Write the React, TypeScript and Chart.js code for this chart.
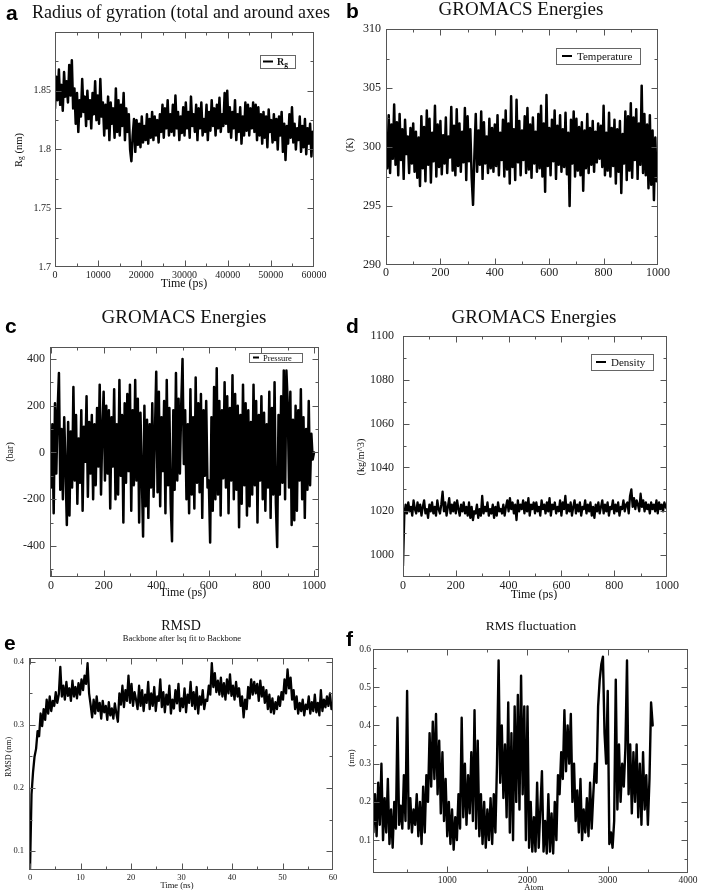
import React, { useEffect, useRef } from 'react';
import { Chart, registerables } from 'chart.js';

Chart.register(...registerables);

const SERIF = '"Liberation Serif", "Times New Roman", serif';
const SANS = '"Liberation Sans", Arial, sans-serif';

// ---------------- DATA ----------------
// (a) Radius of gyration, sampled every 300 ps from 0 ps
const RG_T0 = 0;
const RG_DT = 300;
const rgValues = [
  1.835, 1.862, 1.842, 1.868, 1.838, 1.855, 1.833, 1.866, 1.845, 1.858,
  1.840, 1.872, 1.846, 1.876, 1.835, 1.852, 1.822, 1.848, 1.815, 1.842,
  1.828, 1.860, 1.832, 1.845, 1.820, 1.850, 1.826, 1.842, 1.818, 1.848,
  1.830, 1.858, 1.825, 1.846, 1.822, 1.860, 1.828, 1.840, 1.812, 1.838,
  1.818, 1.845, 1.808, 1.840, 1.822, 1.835, 1.810, 1.852, 1.815, 1.842,
  1.812, 1.838, 1.820, 1.848, 1.808, 1.835, 1.815, 1.830, 1.800, 1.790,
  1.812, 1.826, 1.798, 1.825, 1.804, 1.822, 1.802, 1.828, 1.806, 1.820,
  1.808, 1.830, 1.805, 1.826, 1.810, 1.832, 1.808, 1.828, 1.812, 1.825,
  1.806, 1.830, 1.815, 1.838, 1.810, 1.835, 1.818, 1.842, 1.812, 1.830,
  1.815, 1.838, 1.812, 1.846, 1.818, 1.832, 1.808, 1.828, 1.814, 1.836,
  1.812, 1.840, 1.818, 1.832, 1.810, 1.845, 1.820, 1.830, 1.815, 1.838,
  1.808, 1.835, 1.818, 1.840, 1.812, 1.826, 1.815, 1.838, 1.808, 1.832,
  1.816, 1.842, 1.820, 1.835, 1.812, 1.838, 1.818, 1.844, 1.815, 1.830,
  1.820, 1.848, 1.822, 1.850, 1.815, 1.836, 1.810, 1.832, 1.818, 1.842,
  1.808, 1.830, 1.815, 1.836, 1.805, 1.828, 1.812, 1.840, 1.816, 1.838,
  1.812, 1.835, 1.818, 1.840, 1.815, 1.838, 1.808, 1.836, 1.812, 1.830,
  1.805, 1.832, 1.810, 1.828, 1.802, 1.834, 1.815, 1.825, 1.806, 1.830,
  1.808, 1.826, 1.800, 1.828, 1.812, 1.832, 1.798, 1.822, 1.791, 1.820,
  1.805, 1.830, 1.810, 1.836, 1.806, 1.822, 1.800, 1.818, 1.808, 1.828,
  1.798, 1.820, 1.802, 1.826, 1.796, 1.818, 1.805, 1.822, 1.794, 1.815,
  1.810,
];
const rgXTicks = [0, 10000, 20000, 30000, 40000, 50000, 60000];
const rgYTicks = [1.7, 1.75, 1.8, 1.85];

// (b) Temperature, every 5 ps
const T_T0 = 0;
const T_DT = 5;
const temperatureValues = [
  300.5, 298.2, 302.7, 297.8, 301.9, 299.0, 303.6, 298.5, 302.1, 297.6,
  302.8, 298.9, 301.5, 297.3, 302.3, 299.4, 300.9, 297.8, 301.6, 298.6,
  302.0, 297.9, 301.3, 297.4, 300.8, 296.7, 302.6, 298.2, 301.7, 297.1,
  303.1, 298.5, 302.4, 297.0, 301.2, 298.8, 303.5, 297.5, 301.9, 298.3,
  302.2, 297.7, 301.0, 298.6, 302.5, 297.8, 300.9, 299.1, 303.4, 298.0,
  301.8, 297.6, 303.2, 298.4, 302.0, 297.9, 301.3, 298.7, 303.3, 297.2,
  302.6, 298.8, 301.5, 297.4, 295.1, 299.3, 302.8, 297.9, 301.4, 298.5,
  303.0, 297.3, 302.1, 298.6, 300.9, 297.8, 302.4, 298.2, 301.6, 297.9,
  301.9, 298.4, 302.7, 297.6, 301.2, 298.9, 302.3, 297.5, 303.1, 298.1,
  302.0, 296.9, 304.3, 298.3, 301.5, 297.2, 304.0, 298.7, 302.2, 297.6,
  301.4, 298.9, 302.6, 297.8, 303.3, 298.1, 301.9, 297.4, 302.5, 298.6,
  301.3, 297.9, 302.8, 298.2, 303.5, 297.5, 302.0, 296.2, 304.4, 298.4,
  301.6, 297.6, 302.3, 298.8, 303.1, 297.3, 301.8, 298.5, 302.7, 297.9,
  301.5, 298.3, 302.9, 297.7, 301.2, 295.0, 302.3, 298.6, 303.0, 297.5,
  302.4, 298.0, 301.7, 297.6, 302.1, 296.3, 301.4, 298.2, 302.8, 297.8,
  301.6, 298.5, 302.2, 297.9, 301.3, 298.7, 302.0, 299.0, 301.8, 298.3,
  303.5, 297.6, 301.2, 298.0, 302.9, 297.5, 301.6, 298.4, 302.3, 296.9,
  301.5, 297.9, 302.2, 296.1, 301.1, 298.6, 303.0, 297.2, 302.6, 298.0,
  303.7, 297.4, 302.5, 298.9, 303.2, 297.3, 302.0, 298.5, 305.2, 297.8,
  302.8, 297.6, 301.9, 296.5, 302.7, 296.8, 301.4, 295.5, 300.8, 297.1,
  299.5,
];
const tempXTicks = [0, 200, 400, 600, 800, 1000];
const tempYTicks = [290, 295, 300, 305, 310];

// (c) Pressure, every 5 ps
const P_T0 = 0;
const P_DT = 5;
const pressureValues = [
  -150, 120, -260, 210, -90, 180, 340, -160, 100, -200,
  150, -60, -310, 130, -270, 90, -150, 280, -120, 160,
  -220, 60, -130, 180, -250, 110, -40, 240, -190, 130,
  -90, 160, -200, 120, -140, 190, -60, 290, -180, 100,
  260, -120, 200, -90, 180, -240, 150, -60, 270, -200,
  120, -180, 310, -100, 160, -300, 210, -130, 250, -80,
  290, -250, 180, -140, 310, -120, 230, -300, 170, -90,
  -360, 200, -230, 140, -280, 120, -150, 210, -190, 80,
  345, -170, 260, -230, 150, -80, 220, -260, 310, -140,
  190, -220, -380, 180, -160, 340, -120, 230, -90, 200,
  400, -50, 180, -200, 120, -260, 270, -180, 150, -240,
  320, -130, 210, -170, 250, -280, 180, -100, 220, -150,
  -120, -385, 150, -250, 280, -200, 360, -180, 220, -270,
  180, -110, 300, -150, 240, -260, 190, -120, 330, -200,
  250, -160, 200, -320, 160, -220, 290, -140, 210, -270,
  180, -230, 130, -180, 290, -140, 220, -300, 160, -120,
  240, -200, 170, -250, 120, -150, 260, -280, 190, -180,
  300, -220, -405, 160, -180, 240, -130, 350, -200, 350,
  210, -150, 260, -310, 140, -290, 200, -250, 180, -120,
  270, -200, 150, -280, 100, -160, 220, -140, 80, -30,
  0,
];
const pressXTicks = [0, 200, 400, 600, 800, 1000];
const pressYTicks = [-400, -200, 0, 200, 400];

// (d) Density, every 5 ps
const D_T0 = 0;
const D_DT = 5;
const densityValues = [
  995, 1018, 1023, 1019, 1024, 1020, 1022, 1018, 1025, 1021,
  1019, 1024, 1020, 1023, 1018, 1022, 1025, 1019, 1021, 1017,
  1023, 1020, 1024, 1019, 1022, 1018, 1025, 1021, 1019, 1023,
  1029, 1020, 1024, 1018, 1022, 1026, 1019, 1023, 1020, 1024,
  1019, 1025, 1021, 1018, 1023, 1020, 1024, 1019, 1022, 1018,
  1024, 1017, 1022, 1016, 1020, 1019, 1023, 1017, 1021, 1018,
  1027, 1019, 1022, 1020, 1024, 1018, 1021, 1019, 1023, 1017,
  1022, 1018, 1024, 1020, 1021, 1019, 1023, 1018, 1022, 1025,
  1020, 1026, 1021, 1024, 1019, 1023, 1016, 1025, 1020, 1023,
  1021, 1025, 1019, 1024, 1020, 1026, 1018, 1023, 1021, 1024,
  1019, 1024, 1020, 1022, 1018, 1025, 1021, 1023, 1019, 1024,
  1020, 1026, 1018, 1023, 1021, 1024, 1019, 1022, 1020, 1025,
  1018, 1024, 1021, 1027, 1019, 1023, 1020, 1024, 1018, 1022,
  1025, 1019, 1023, 1020, 1024, 1018, 1022, 1021, 1025, 1019,
  1023, 1020, 1024, 1018, 1022, 1017, 1023, 1020, 1024, 1019,
  1022, 1025, 1019, 1023, 1020, 1024, 1018, 1022, 1021, 1025,
  1019, 1023, 1020, 1024, 1018, 1022, 1021, 1025, 1020, 1023,
  1024, 1019, 1027, 1030, 1022, 1026, 1021, 1025, 1023, 1020,
  1028, 1022, 1025, 1020, 1024, 1021, 1023, 1019, 1024, 1021,
  1023, 1020, 1025, 1019, 1024, 1021, 1023, 1020, 1024, 1022,
  1021,
];
const densXTicks = [0, 200, 400, 600, 800, 1000];
const densYTicks = [1000, 1020, 1040, 1060, 1080, 1100];

// (e) RMSD, every 0.3 ns
const R_T0 = 0;
const R_DT = 0.3;
const rmsdValues = [
  0.070, 0.190, 0.225, 0.250, 0.262, 0.290, 0.282, 0.318, 0.298, 0.325,
  0.308, 0.340, 0.318, 0.345, 0.322, 0.338, 0.330, 0.352, 0.335, 0.348,
  0.392, 0.345, 0.362, 0.340, 0.368, 0.346, 0.358, 0.338, 0.370, 0.345,
  0.360, 0.342, 0.366, 0.348, 0.372, 0.355, 0.378, 0.365, 0.398, 0.350,
  0.332, 0.312, 0.340, 0.318, 0.345, 0.322, 0.335, 0.310, 0.338, 0.320,
  0.330, 0.308, 0.336, 0.315, 0.326, 0.310, 0.334, 0.318, 0.305, 0.350,
  0.332, 0.362, 0.328, 0.355, 0.338, 0.378, 0.335, 0.365, 0.330, 0.352,
  0.340, 0.325, 0.362, 0.330, 0.355, 0.322, 0.348, 0.335, 0.368, 0.325,
  0.350, 0.330, 0.360, 0.322, 0.345, 0.338, 0.372, 0.328, 0.352, 0.320,
  0.348, 0.332, 0.362, 0.318, 0.340, 0.326, 0.355, 0.334, 0.365, 0.322,
  0.342, 0.328, 0.358, 0.320, 0.348, 0.335, 0.368, 0.330, 0.352, 0.325,
  0.360, 0.318, 0.345, 0.332, 0.355, 0.325, 0.340, 0.338, 0.362, 0.348,
  0.398, 0.360, 0.382, 0.352, 0.370, 0.348, 0.375, 0.345, 0.366, 0.340,
  0.372, 0.350, 0.380, 0.346, 0.362, 0.340, 0.368, 0.345, 0.358, 0.330,
  0.345, 0.312, 0.340, 0.325, 0.360, 0.342, 0.372, 0.348, 0.368, 0.350,
  0.365, 0.338, 0.370, 0.345, 0.360, 0.335, 0.355, 0.325, 0.348, 0.320,
  0.342, 0.318, 0.336, 0.325, 0.345, 0.330, 0.352, 0.340, 0.372, 0.350,
  0.388, 0.358, 0.375, 0.340, 0.355, 0.325, 0.345, 0.318, 0.335, 0.322,
  0.340, 0.315, 0.332, 0.325, 0.345, 0.318, 0.336, 0.322, 0.348, 0.320,
  0.335, 0.315, 0.355, 0.322, 0.340, 0.328, 0.345, 0.330, 0.350, 0.325,
  0.330,
];
const rmsdXTicks = [0, 10, 20, 30, 40, 50, 60];
const rmsdYTicks = [0.1, 0.2, 0.3, 0.4];

// (f) RMS fluctuation, every 20 atoms from atom 80
const F_X0 = 80;
const F_DX = 20;
const rmsfValues = [
  0.12, 0.22, 0.11, 0.25, 0.14, 0.30, 0.10, 0.21, 0.12, 0.26,
  0.09, 0.18, 0.08, 0.20, 0.13, 0.42, 0.14, 0.19, 0.13, 0.27,
  0.15, 0.49, 0.13, 0.21, 0.12, 0.18, 0.14, 0.22, 0.11, 0.20,
  0.09, 0.24, 0.12, 0.27, 0.20, 0.38, 0.24, 0.41, 0.26, 0.43,
  0.22, 0.36, 0.17, 0.33, 0.15, 0.26, 0.11, 0.20, 0.09, 0.18,
  0.075, 0.16, 0.10, 0.22, 0.13, 0.42, 0.16, 0.30, 0.14, 0.27,
  0.17, 0.33, 0.15, 0.44, 0.13, 0.36, 0.11, 0.22, 0.09, 0.20,
  0.08, 0.18, 0.10, 0.21, 0.09, 0.22, 0.12, 0.30, 0.57, 0.25,
  0.40, 0.21, 0.35, 0.16, 0.46, 0.12, 0.38, 0.10, 0.45, 0.20,
  0.48, 0.18, 0.53, 0.22, 0.45, 0.10, 0.45, 0.08, 0.20, 0.07,
  0.16, 0.07, 0.25, 0.08, 0.18, 0.28, 0.07, 0.15, 0.065, 0.22,
  0.07, 0.17, 0.065, 0.20, 0.10, 0.27, 0.22, 0.33, 0.26, 0.44,
  0.28, 0.40, 0.30, 0.43, 0.20, 0.30, 0.15, 0.23, 0.12, 0.26,
  0.10, 0.18, 0.12, 0.21, 0.11, 0.25, 0.13, 0.22, 0.30, 0.25,
  0.45, 0.52, 0.56, 0.58, 0.38, 0.30, 0.49, 0.09, 0.12, 0.08,
  0.15, 0.52, 0.18, 0.35, 0.20, 0.30, 0.24, 0.34, 0.57, 0.22,
  0.35, 0.17, 0.33, 0.20, 0.35, 0.16, 0.30, 0.14, 0.33, 0.18,
  0.27, 0.14, 0.26, 0.46, 0.40,
];
const rmsfXTicks = [1000, 2000, 3000, 4000];
const rmsfYTicks = [0.1, 0.2, 0.3, 0.4, 0.5, 0.6];

// ---------------- RENDERING ----------------
type Seg = { t: string; font: string; dy?: number; color?: string };
type Txt = { segs: Seg[]; x: number; y: number; align?: 'left' | 'center'; rot?: boolean; baseline?: CanvasTextBaseline };
type Legend = { rect: [number, number, number, number]; line: [number, number, number]; segs: Seg[]; tx: number; ty: number };
type AxisCfg = { min: number; max: number; ticks: number[]; minor: number; font: number; pad: number };
type PanelCfg = {
  box: [number, number, number, number];
  plot: [number, number, number, number];
  x: AxisCfg;
  y: AxisCfg;
  x0: number;
  dx: number;
  values: number[];
  lw: number;
  texts: Txt[];
  legend?: Legend;
};

const sf = (size: number, bold = false) => `${bold ? 'bold ' : ''}${size}px ${SERIF}`;
const T = (t: string, font: string): Seg[] => [{ t, font }];

function drawSegs(ctx: CanvasRenderingContext2D, segs: Seg[], x: number, y: number, align: 'left' | 'center', rot: boolean, baseline: CanvasTextBaseline) {
  ctx.save();
  ctx.translate(x, y);
  if (rot) ctx.rotate(-Math.PI / 2);
  ctx.textBaseline = baseline;
  ctx.textAlign = 'left';
  let total = 0;
  for (const s of segs) {
    ctx.font = s.font;
    total += ctx.measureText(s.t).width;
  }
  let cx = align === 'center' ? -total / 2 : 0;
  for (const s of segs) {
    ctx.font = s.font;
    ctx.fillStyle = s.color || '#111';
    ctx.fillText(s.t, cx, s.dy || 0);
    cx += ctx.measureText(s.t).width;
  }
  ctx.restore();
}

function makeDeco(cfg: PanelCfg) {
  return {
    id: 'deco',
    afterDatasetsDraw(chart: any) {
      const { ctx, chartArea: a, scales } = chart;
      const xs = scales.x;
      const ys = scales.y;
      ctx.save();
      ctx.strokeStyle = '#555';
      ctx.lineWidth = 1;
      const L = Math.round(a.left) + 0.5;
      const R = Math.round(a.right) - 0.5;
      const Tp = Math.round(a.top) + 0.5;
      const B = Math.round(a.bottom) - 0.5;
      ctx.strokeRect(L, Tp, R - L, B - Tp);
      const line = (x1: number, y1: number, x2: number, y2: number) => {
        ctx.beginPath();
        ctx.moveTo(x1, y1);
        ctx.lineTo(x2, y2);
        ctx.stroke();
      };
      const xTick = (v: number, len: number) => {
        const p = Math.round(xs.getPixelForValue(v)) + 0.5;
        if (p < L - 0.1 || p > R + 0.1) return;
        line(p, B, p, B - len);
        line(p, Tp, p, Tp + len);
      };
      const yTick = (v: number, len: number) => {
        const p = Math.round(ys.getPixelForValue(v)) + 0.5;
        if (p < Tp - 0.1 || p > B + 0.1) return;
        line(L, p, L + len, p);
        line(R, p, R - len, p);
      };
      const minorVals = (ax: AxisCfg) => {
        const out: number[] = [];
        const start = Math.ceil(ax.min / ax.minor - 1e-9);
        const end = Math.floor(ax.max / ax.minor + 1e-9);
        for (let k = start; k <= end; k++) out.push(k * ax.minor);
        return out;
      };
      minorVals(cfg.x).forEach((v) => xTick(v, 3));
      minorVals(cfg.y).forEach((v) => yTick(v, 3));
      cfg.x.ticks.forEach((v) => xTick(v, 6));
      cfg.y.ticks.forEach((v) => yTick(v, 6));
      ctx.restore();
    },
    afterDraw(chart: any) {
      const ctx: CanvasRenderingContext2D = chart.ctx;
      const [cl, ct] = cfg.box;
      for (const t of cfg.texts) {
        drawSegs(ctx, t.segs, t.x - cl, t.y - ct, t.align || 'left', !!t.rot, t.baseline || 'alphabetic');
      }
      const lg = cfg.legend;
      if (lg) {
        ctx.save();
        ctx.fillStyle = '#fff';
        const [x1, y1, x2, y2] = lg.rect;
        ctx.fillRect(x1 - cl, y1 - ct, x2 - x1, y2 - y1);
        ctx.strokeStyle = '#666';
        ctx.lineWidth = 1;
        ctx.strokeRect(x1 - cl + 0.5, y1 - ct + 0.5, x2 - x1, y2 - y1);
        ctx.strokeStyle = '#000';
        ctx.lineWidth = 2;
        ctx.beginPath();
        ctx.moveTo(lg.line[0] - cl, lg.line[2] - ct);
        ctx.lineTo(lg.line[1] - cl, lg.line[2] - ct);
        ctx.stroke();
        ctx.restore();
        drawSegs(ctx, lg.segs, lg.tx - cl, lg.ty - ct, 'left', false, 'alphabetic');
      }
    },
  };
}

function Panel({ cfg }: { cfg: PanelCfg }) {
  const ref = useRef<HTMLCanvasElement>(null);
  useEffect(() => {
    const [cl, ct, cw, ch] = cfg.box;
    const [pl, pt, pr, pb] = cfg.plot;
    const pts = cfg.values.map((v, i) => ({ x: cfg.x0 + i * cfg.dx, y: v }));
    const axis = (ax: AxisCfg, isX: boolean) => ({
      type: 'linear' as const,
      min: ax.min,
      max: ax.max,
      grid: { display: false, drawTicks: false },
      border: { display: false },
      ticks: {
        autoSkip: false,
        maxRotation: 0,
        minRotation: 0,
        padding: ax.pad,
        color: '#222',
        font: { family: SERIF, size: ax.font },
        callback: (v: any) => String(v),
      },
      afterBuildTicks: (s: any) => {
        s.ticks = ax.ticks.map((v) => ({ value: v }));
      },
      afterFit: (s: any) => {
        if (isX) s.height = ct + ch - pb;
        else s.width = pl - cl;
      },
    });
    const chart = new Chart(ref.current as HTMLCanvasElement, {
      type: 'line',
      data: {
        datasets: [
          {
            data: pts,
            borderColor: '#000',
            borderWidth: cfg.lw,
            borderJoinStyle: 'round',
            borderCapStyle: 'round',
            pointRadius: 0,
            tension: 0,
            fill: false,
          },
        ],
      },
      options: {
        responsive: false,
        animation: false,
        devicePixelRatio: 1,
        events: [],
        layout: { padding: { left: 0, top: pt - ct, right: cl + cw - pr, bottom: 0 } },
        plugins: { legend: { display: false }, tooltip: { enabled: false }, title: { display: false } },
        scales: { x: axis(cfg.x, true), y: axis(cfg.y, false) },
      } as any,
      plugins: [makeDeco(cfg)],
    });
    return () => chart.destroy();
  }, []);
  const [cl, ct, cw, ch] = cfg.box;
  return (
    <canvas
      ref={ref}
      width={cw}
      height={ch}
      style={{ position: 'absolute', left: cl, top: ct, width: cw, height: ch }}
    />
  );
}

const letter = (t: string, x: number, y: number): Txt => ({ segs: [{ t, font: `bold 21px ${SANS}`, color: '#000' }], x, y });

const panels: PanelCfg[] = [
  {
    box: [0, 0, 354, 300],
    plot: [55, 32, 314, 267],
    x: { min: 0, max: 60000, ticks: rgXTicks, minor: 5000, font: 10, pad: 2 },
    y: { min: 1.7, max: 1.9, ticks: rgYTicks, minor: 0.025, font: 10, pad: 4 },
    x0: RG_T0,
    dx: RG_DT,
    values: rgValues,
    lw: 2.5,
    texts: [
      letter('a', 6, 20),
      { segs: T('Radius of gyration (total and around axes', sf(18)), x: 32, y: 18 },
      {
        segs: [
          { t: 'R', font: sf(10.5) },
          { t: 'g', font: sf(7.5), dy: 2 },
          { t: ' (nm)', font: sf(10.5) },
        ],
        x: 19, y: 150, align: 'center', rot: true, baseline: 'middle',
      },
      { segs: T('Time (ps)', sf(12)), x: 184, y: 284, align: 'center', baseline: 'middle' },
    ],
    legend: {
      rect: [260, 55, 295, 68],
      line: [263, 273, 61.5],
      segs: [
        { t: 'R', font: sf(10, true) },
        { t: 'g', font: sf(7.5, true), dy: 2 },
      ],
      tx: 277,
      ty: 65,
    },
  },
  {
    box: [340, 0, 368, 300],
    plot: [386, 29, 658, 265],
    x: { min: 0, max: 1000, ticks: tempXTicks, minor: 100, font: 12, pad: 1 },
    y: { min: 290, max: 310, ticks: tempYTicks, minor: 2.5, font: 12, pad: 5 },
    x0: T_T0,
    dx: T_DT,
    values: temperatureValues,
    lw: 2.5,
    texts: [
      letter('b', 346, 18),
      { segs: T('GROMACS Energies', sf(19)), x: 521, y: 15, align: 'center' },
      { segs: T('(K)', sf(10)), x: 350, y: 145, align: 'center', rot: true, baseline: 'middle' },
    ],
    legend: {
      rect: [556, 48, 640, 64],
      line: [562, 572, 56],
      segs: T('Temperature', sf(11)),
      tx: 577,
      ty: 60,
    },
  },
  {
    box: [0, 300, 354, 300],
    plot: [50, 347, 319, 577],
    x: { min: -4, max: 1019, ticks: pressXTicks, minor: 100, font: 12, pad: 2 },
    y: { min: -533, max: 451, ticks: pressYTicks, minor: 100, font: 12, pad: 5 },
    x0: P_T0,
    dx: P_DT,
    values: pressureValues,
    lw: 2.5,
    texts: [
      letter('c', 5, 333),
      { segs: T('GROMACS Energies', sf(19)), x: 184, y: 323, align: 'center' },
      { segs: T('(bar)', sf(10)), x: 10, y: 452, align: 'center', rot: true, baseline: 'middle' },
      { segs: T('Time (ps)', sf(12)), x: 183, y: 593, align: 'center', baseline: 'middle' },
    ],
    legend: {
      rect: [249, 353, 302, 362],
      line: [253, 259, 357.5],
      segs: T('Pressure', sf(8.5)),
      tx: 263,
      ty: 361,
    },
  },
  {
    box: [340, 300, 368, 300],
    plot: [403, 336, 667, 577],
    x: { min: 0, max: 1000, ticks: densXTicks, minor: 100, font: 12, pad: 2 },
    y: { min: 990, max: 1100, ticks: densYTicks, minor: 10, font: 12, pad: 9 },
    x0: D_T0,
    dx: D_DT,
    values: densityValues,
    lw: 2.3,
    texts: [
      letter('d', 346, 333),
      { segs: T('GROMACS Energies', sf(19)), x: 534, y: 323, align: 'center' },
      { segs: T('(kg/m^3)', sf(10)), x: 361, y: 457, align: 'center', rot: true, baseline: 'middle' },
      { segs: T('Time (ps)', sf(12)), x: 534, y: 595, align: 'center', baseline: 'middle' },
    ],
    legend: {
      rect: [591, 354, 653, 370],
      line: [596, 606, 362],
      segs: T('Density', sf(11)),
      tx: 611,
      ty: 366,
    },
  },
  {
    box: [0, 590, 354, 303],
    plot: [29, 658, 333, 870],
    x: { min: -0.2, max: 60, ticks: rmsdXTicks, minor: 5, font: 8.5, pad: 3 },
    y: { min: 0.07, max: 0.406, ticks: rmsdYTicks, minor: 0.05, font: 8.5, pad: 5 },
    x0: R_T0,
    dx: R_DT,
    values: rmsdValues,
    lw: 2.3,
    texts: [
      letter('e', 4, 650),
      { segs: T('RMSD', sf(14)), x: 181, y: 630, align: 'center' },
      { segs: T('Backbone after lsq fit to Backbone', sf(8.5)), x: 182, y: 641, align: 'center' },
      { segs: T('RMSD (nm)', sf(8)), x: 9, y: 757, align: 'center', rot: true, baseline: 'middle' },
      { segs: T('Time (ns)', sf(8.5)), x: 177, y: 886, align: 'center', baseline: 'middle' },
    ],
  },
  {
    box: [340, 590, 368, 303],
    plot: [373, 649, 688, 873],
    x: { min: 75, max: 4000, ticks: rmsfXTicks, minor: 500, font: 9.5, pad: 2 },
    y: { min: 0.014, max: 0.6, ticks: rmsfYTicks, minor: 0.05, font: 9.5, pad: 2 },
    x0: F_X0,
    dx: F_DX,
    values: rmsfValues,
    lw: 2.4,
    texts: [
      letter('f', 346, 646),
      { segs: T('RMS fluctuation', sf(13.5)), x: 531, y: 630, align: 'center' },
      { segs: T('(nm)', sf(9)), x: 352, y: 758, align: 'center', rot: true, baseline: 'middle' },
      { segs: T('Atom', sf(8.5)), x: 534, y: 888, align: 'center', baseline: 'middle' },
    ],
  },
];

export default function App() {
  return (
    <div style={{ position: 'absolute', left: 0, top: 0, width: 708, height: 893, background: '#fff', overflow: 'hidden' }}>
      {panels.map((p, i) => (
        <Panel key={i} cfg={p} />
      ))}
    </div>
  );
}
